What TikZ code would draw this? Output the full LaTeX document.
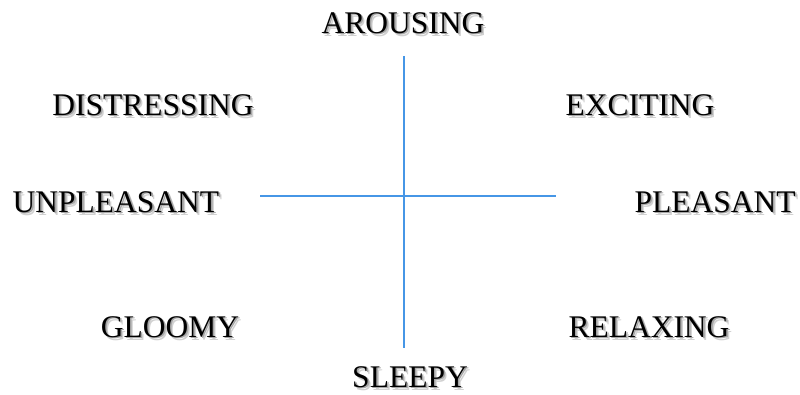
\documentclass[tikz,border=0pt]{standalone}
\usepackage{fontspec}
\setmainfont{Liberation Serif}
\definecolor{axisblue}{RGB}{70,150,230}
\tikzset{
  lbl/.style={font=\fontsize{31.5}{34}\selectfont, inner sep=0pt, anchor=center},
  shdA/.style={lbl, text=black!18},
  shdB/.style={lbl, text=black!35},
  axis/.style={draw=axisblue, line width=1.1pt}
}
\newcommand{\shlabel}[3]{%
  \node[shdA] at ([shift={(2.8,2.8)}]#2) {#3};
  \node[shdB] at ([shift={(1.6,1.6)}]#2) {#3};
  \node[lbl] (#1) at (#2) {#3};
}
\begin{document}
\begin{tikzpicture}[x=1pt,y=-1pt]
\useasboundingbox (0,0) rectangle (800,394);
\fill[white] (0,0) rectangle (800,394);
\coordinate (top) at (404,56);
\coordinate (bot) at (404,348);
\coordinate (lft) at (260,196);
\coordinate (rgt) at (556,196);
\draw[axis] (top) -- (bot);
\draw[axis] (lft) -- (rgt);
\shlabel{arousing}{403,23}{AROUSING}
\shlabel{distressing}{153,105}{DISTRESSING}
\shlabel{exciting}{640,105}{EXCITING}
\shlabel{unpleasant}{116,202}{UNPLEASANT}
\shlabel{pleasant}{715,202}{PLEASANT}
\shlabel{gloomy}{170,327}{GLOOMY}
\shlabel{relaxing}{649,327}{RELAXING}
\shlabel{sleepy}{410,377}{SLEEPY}
\end{tikzpicture}
\end{document}
